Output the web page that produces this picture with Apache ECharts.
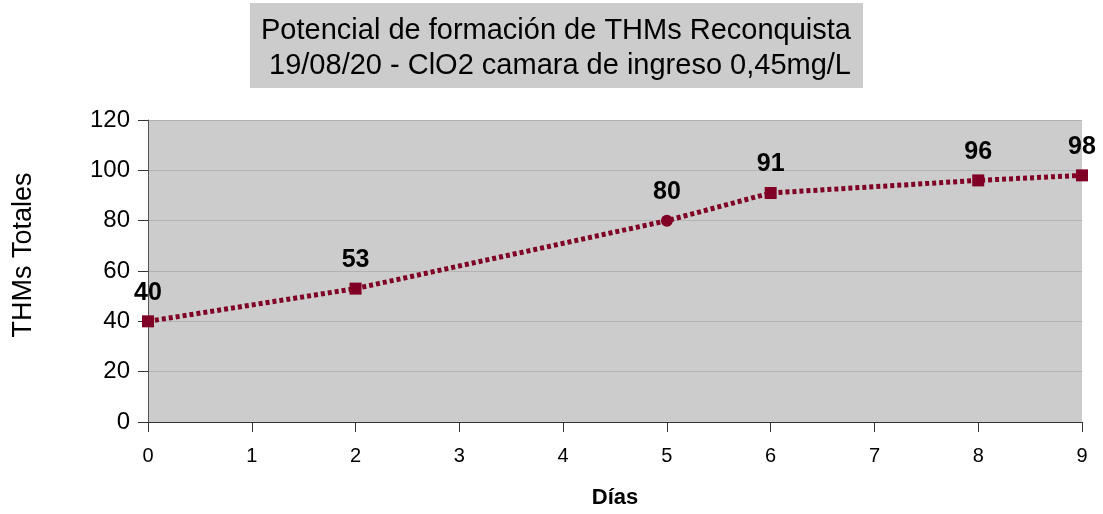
<!DOCTYPE html>
<html><head><meta charset="utf-8">
<script src="https://cdn.jsdelivr.net/npm/echarts@6/dist/echarts.min.js"></script>
<style>html,body{margin:0;padding:0;background:#fff}#c{width:1103px;height:514px}</style>
</head><body><div id="c"></div>
<script>
const dias = [0, 2, 5, 6, 8, 9];
const thms = [40, 53, 80, 91, 96, 98];
const symbols = ['rect', 'rect', 'circle', 'rect', 'rect', 'rect'];
const titleLines = ['Potencial de formación de THMs Reconquista', ' 19/08/20 - ClO2 camara de ingreso 0,45mg/L'];
const xName = 'Días';
const yName = 'THMs Totales';

const chart = echarts.init(document.getElementById('c'));
const font = '"Liberation Sans", Arial, sans-serif';
chart.setOption({
  animation: false,
  graphic: [
    { type: 'rect', left: 250, top: 3, shape: { width: 613, height: 85 }, style: { fill: '#cccccc' }, z: 0 },
    { type: 'text', x: 556, y: 48, z: 1,
      style: { text: titleLines.join('\n'), fill: '#000', font: '29px ' + font, textAlign: 'center', textVerticalAlign: 'middle', lineHeight: 35 } },
    { type: 'text', x: 24, y: 255, rotation: Math.PI / 2, z: 1,
      style: { text: yName, fill: '#000', font: '27px ' + font, textAlign: 'center', textVerticalAlign: 'middle' } }
  ],
  grid: { left: 148, right: 21, top: 120, bottom: 90, show: true, backgroundColor: '#cccccc', borderWidth: 0 },
  xAxis: {
    type: 'value', min: 0, max: 9, interval: 1,
    name: xName, nameLocation: 'middle', nameGap: 65,
    nameTextStyle: { fontFamily: font, fontSize: 22, fontWeight: 'bold', color: '#000' },
    axisLine: { lineStyle: { color: '#333', width: 1 } },
    axisTick: { show: true, length: 10, lineStyle: { color: '#333' } },
    axisLabel: { fontFamily: font, fontSize: 20, color: '#000', margin: 24 },
    splitLine: { show: false }
  },
  yAxis: {
    type: 'value', min: 0, max: 120, interval: 20,
    axisLine: { show: true, lineStyle: { color: '#555', width: 1 } },
    axisTick: { show: true, length: 10, lineStyle: { color: '#333' } },
    axisLabel: { fontFamily: font, fontSize: 24, color: '#000', margin: 18 },
    splitLine: { show: true, lineStyle: { color: '#b3b3b3', width: 1 } }
  },
  series: [{
    type: 'line',
    data: dias.map((d, i) => ({ value: [d, thms[i]], symbol: symbols[i] })),
    symbolSize: 12,
    lineStyle: { color: '#800025', width: 5, type: [4, 3] },
    itemStyle: { color: '#800025' },
    label: { show: true, position: 'top', distance: 10, fontFamily: font, fontSize: 25, fontWeight: 'bold', color: '#000' },
    clip: false
  }]
});
</script></body></html>
